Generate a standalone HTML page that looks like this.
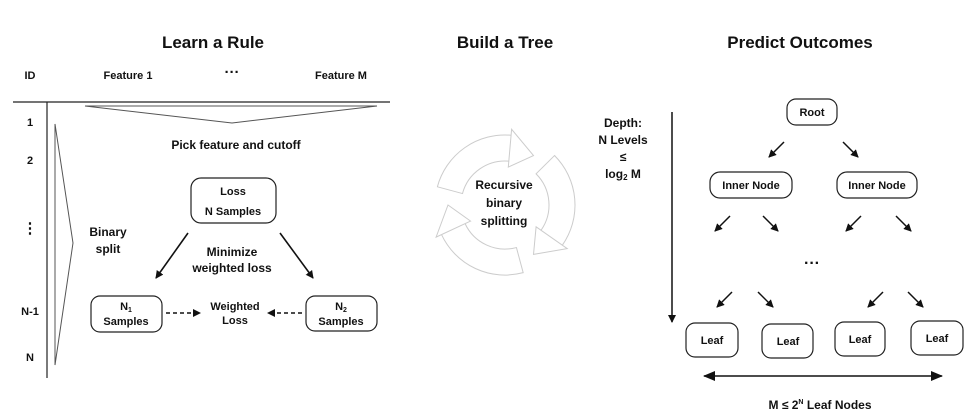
<!DOCTYPE html>
<html><head><meta charset="utf-8"><style>
body{margin:0;background:#fff;width:972px;height:413px;overflow:hidden}
svg{display:block;font-family:"Liberation Sans",sans-serif;font-weight:bold}
</style></head><body>
<svg width="972" height="413" viewBox="0 0 972 413" xmlns="http://www.w3.org/2000/svg">
<defs>
<marker id="ah" markerWidth="8" markerHeight="8" refX="7" refY="4" orient="auto" markerUnits="userSpaceOnUse"><path d="M0,0 L8,4 L0,8 z" fill="#111"/></marker>
<marker id="ah2" markerWidth="12" markerHeight="10" refX="11" refY="5" orient="auto-start-reverse" markerUnits="userSpaceOnUse"><path d="M0,0 L12,5 L0,10 z" fill="#111"/></marker>
</defs>
<g font-size="17" text-anchor="middle" fill="#111">
<text x="213" y="48">Learn a Rule</text>
<text x="505" y="48">Build a Tree</text>
<text x="800" y="48">Predict Outcomes</text>
</g>
<g font-size="11" fill="#111" text-anchor="middle">
<text x="30" y="79">ID</text>
<text x="128" y="79">Feature 1</text>
<text x="232" y="77" font-size="15">···</text>
<text x="341" y="79">Feature M</text>
<text x="30" y="126">1</text>
<text x="30" y="164">2</text>
<text x="30" y="233" font-size="15">⋮</text>
<text x="30" y="315">N-1</text>
<text x="30" y="361">N</text>
</g>
<line x1="13" y1="102" x2="390" y2="102" stroke="#222" stroke-width="1.2"/>
<line x1="47" y1="102" x2="47" y2="378" stroke="#222" stroke-width="1.2"/>
<polygon points="85,106 377,106 232,123" fill="none" stroke="#555" stroke-width="1"/>
<polygon points="55,124 73,243 55,365" fill="none" stroke="#555" stroke-width="1"/>
<g font-size="12" fill="#111" text-anchor="middle">
<text x="236" y="149">Pick feature and cutoff</text>
<text x="108" y="236">Binary</text>
<text x="108" y="253">split</text>
<text x="232" y="256">Minimize</text>
<text x="232" y="272">weighted loss</text>
</g>
<g fill="none" stroke="#222" stroke-width="1.2">
<rect x="191" y="178" width="85" height="45" rx="10"/>
<rect x="91" y="296" width="71" height="36" rx="9"/>
<rect x="306" y="296" width="71" height="35" rx="9"/>
</g>
<g font-size="11" fill="#111" text-anchor="middle">
<text x="233" y="195">Loss</text>
<text x="233" y="215">N Samples</text>
<text x="126" y="310">N<tspan font-size="7" dy="2">1</tspan></text>
<text x="126" y="325">Samples</text>
<text x="341" y="310">N<tspan font-size="7" dy="2">2</tspan></text>
<text x="341" y="325">Samples</text>
<text x="235" y="310">Weighted</text>
<text x="235" y="324">Loss</text>
</g>
<g stroke="#111" stroke-width="1.6">
<line x1="188" y1="233" x2="156" y2="278" marker-end="url(#ah)"/>
<line x1="280" y1="233" x2="313" y2="278" marker-end="url(#ah)"/>
<line x1="166" y1="313" x2="200" y2="313" stroke-dasharray="4,3" marker-end="url(#ah)"/>
<line x1="302" y1="313" x2="268" y2="313" stroke-dasharray="4,3" marker-end="url(#ah)"/>
</g>
<!-- recycle -->
<g>
<g fill="none" stroke="#ccc" stroke-width="27">
<path d="M449.9,190.2 A57 57 0 0 1 510,148.2"/>
<path d="M545.3,164.7 A57 57 0 0 1 551.7,237.7"/>
<path d="M519.8,260.1 A57 57 0 0 1 453.3,229.1"/>
</g>
<g fill="none" stroke="#fff" stroke-width="25">
<path d="M449.9,190.2 A57 57 0 0 1 510,148.2"/>
<path d="M545.3,164.7 A57 57 0 0 1 551.7,237.7"/>
<path d="M519.8,260.1 A57 57 0 0 1 453.3,229.1"/>
</g>
<g stroke="#ccc" stroke-width="1">
<line x1="437" y1="186.7" x2="463" y2="193.7"/>
<line x1="554.9" y1="155.2" x2="535.7" y2="174.2"/>
<line x1="523.3" y1="273.1" x2="516.3" y2="247.1"/>
</g>
<g fill="#fff" stroke="#ccc" stroke-width="1">
<polygon points="508.3,167.1 511.6,129.3 533.5,155.6"/>
<polygon points="536.1,226.8 567.2,248.6 533.5,254.4"/>
<polygon points="470.6,221.1 436.1,237.1 448,205"/>
</g>
</g>
<g font-size="12" fill="#111" text-anchor="middle">
<text x="504" y="189">Recursive</text>
<text x="504" y="207">binary</text>
<text x="504" y="225">splitting</text>
</g>
<!-- right -->
<g font-size="12" fill="#111" text-anchor="middle">
<text x="623" y="127">Depth:</text>
<text x="623" y="144">N Levels</text>
<text x="623" y="161">≤</text>
<text x="623" y="178">log<tspan font-size="8" dy="2">2</tspan><tspan dy="-2"> M</tspan></text>
</g>
<line x1="672" y1="112" x2="672" y2="322" stroke="#111" stroke-width="1.5" marker-end="url(#ah)"/>
<g fill="none" stroke="#222" stroke-width="1.2">
<rect x="787" y="99" width="50" height="26" rx="9"/>
<rect x="710" y="172" width="82" height="26" rx="10"/>
<rect x="837" y="172" width="80" height="26" rx="10"/>
<rect x="686" y="323" width="52" height="34" rx="9"/>
<rect x="762" y="324" width="51" height="34" rx="9"/>
<rect x="835" y="322" width="50" height="34" rx="9"/>
<rect x="911" y="321" width="52" height="34" rx="9"/>
</g>
<g font-size="11" fill="#111" text-anchor="middle">
<text x="812" y="116">Root</text>
<text x="751" y="189">Inner Node</text>
<text x="877" y="189">Inner Node</text>
<text x="712" y="344">Leaf</text>
<text x="788" y="345">Leaf</text>
<text x="860" y="343">Leaf</text>
<text x="937" y="342">Leaf</text>
<text x="812" y="268" font-size="16">···</text>
</g>
<g stroke="#111" stroke-width="1.5">
<line x1="784" y1="142" x2="769" y2="157" marker-end="url(#ah)"/>
<line x1="843" y1="142" x2="858" y2="157" marker-end="url(#ah)"/>
<line x1="730" y1="216" x2="715" y2="231" marker-end="url(#ah)"/>
<line x1="763" y1="216" x2="778" y2="231" marker-end="url(#ah)"/>
<line x1="861" y1="216" x2="846" y2="231" marker-end="url(#ah)"/>
<line x1="896" y1="216" x2="911" y2="231" marker-end="url(#ah)"/>
<line x1="732" y1="292" x2="717" y2="307" marker-end="url(#ah)"/>
<line x1="758" y1="292" x2="773" y2="307" marker-end="url(#ah)"/>
<line x1="883" y1="292" x2="868" y2="307" marker-end="url(#ah)"/>
<line x1="908" y1="292" x2="923" y2="307" marker-end="url(#ah)"/>
<line x1="704" y1="376" x2="942" y2="376" marker-start="url(#ah2)" marker-end="url(#ah2)"/>
</g>
<text x="820" y="409" font-size="12" fill="#111" text-anchor="middle">M ≤ 2<tspan font-size="7" dy="-5">N</tspan><tspan dy="5"> Leaf Nodes</tspan></text>
</svg>
</body></html>
